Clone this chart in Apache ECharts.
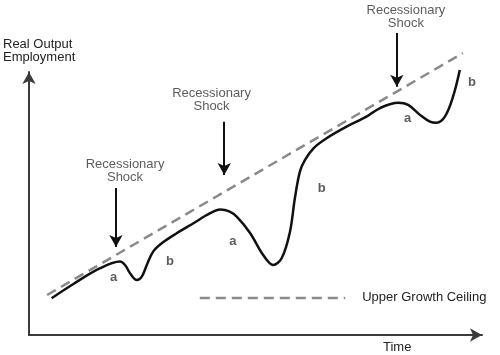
<!DOCTYPE html>
<html>
<head>
<meta charset="utf-8">
<script src="https://cdn.jsdelivr.net/npm/echarts@6/dist/echarts.min.js"></script>
<style>html,body{margin:0;padding:0;background:#fff;}#c{width:500px;height:355px;}</style>
</head>
<body>
<div id="c"></div>
<script>
// Business cycle path (time, output)
var cycleTime   = [5.0, 9.8, 15.7, 20.1, 21.2, 22.3, 23.8, 24.9, 26.0, 27.4, 29.3, 32.6, 36.3, 40.0, 42.2, 44.2, 45.9, 48.8, 51.7, 53.9, 55.8, 57.6, 58.7, 59.8, 60.9, 62.8, 65.7, 70.1, 74.5, 77.5, 81.5, 83.7, 86.3, 88.5, 90.0, 91.8, 93.6, 95.1];
var cycleOutput = [14.0, 19.4, 25.4, 27.9, 26.6, 23.5, 20.9, 22.2, 26.6, 31.7, 34.9, 38.7, 42.5, 46.3, 47.7, 47.0, 44.9, 38.8, 30.4, 26.6, 29.3, 39.2, 52.1, 62.1, 66.5, 71.0, 74.8, 79.2, 83.0, 86.3, 88.3, 87.5, 83.7, 81.1, 80.7, 83.0, 90.6, 100.8];
// Upper growth ceiling (dashed trend)
var ceilingTime   = [4.0, 95.8];
var ceilingOutput = [15.2, 107.2];
// Legend sample line
var legendTime   = [37.7, 69.8];
var legendOutput = [14.1, 14.1];
var legendText = 'Upper Growth Ceiling';
// Recessionary shocks: arrow time, arrow top, arrow tip, label x, label y
var shockTime  = [19.2, 43.1, 81.2];
var shockTop   = [55.9, 81.1, 114.8];
var shockTip   = [33.5, 60.8, 94.4];
var shockLabelX = [21.2, 40.3, 83.2];
var shockLabelY = [62.2, 89.2, 120.9];
var shockText = 'Recessionary\nShock';
// Phase labels
var phaseNames = ['a', 'b', 'a', 'b', 'a', 'b'];
var phaseX = [18.7, 31.1, 45.0, 64.6, 83.6, 97.8];
var phaseY = [21.9, 27.9, 35.4, 55.9, 82.5, 96.0];

var FONT = 'Liberation Sans, Arial, sans-serif';
var chart = echarts.init(document.getElementById('c'), null, {renderer: 'canvas'});

function zip(a, b) { return a.map(function (v, i) { return [v, b[i]]; }); }

var shockLines = shockTime.map(function (t, i) {
  return [{coord: [t, shockTop[i]]}, {coord: [t, shockTip[i]]}];
});
var shockLabels = shockLabelX.map(function (x, i) { return {name: shockText, value: [x, shockLabelY[i]]}; });
var phaseData = phaseNames.map(function (n, i) { return {name: n, value: [phaseX[i], phaseY[i]]}; });

var hidden = {axisLine: {show: false}, axisTick: {show: false}, axisLabel: {show: false}, splitLine: {show: false}};
var arrowLine = {show: true, symbol: ['none', 'arrow'], symbolSize: [10, 12], lineStyle: {color: '#3a3a3a', width: 2}};

chart.setOption({
  backgroundColor: '#fff',
  animation: false,
  grid: [
    {left: 29, right: 18, top: 72, bottom: 20},      // visible axes (same scale)
    {left: 29, right: 18, top: 6.25, bottom: 20}     // drawing area, extended upward
  ],
  xAxis: [
    Object.assign({type: 'value', min: 0, max: 100, gridIndex: 0}, hidden, {axisLine: arrowLine}),
    Object.assign({type: 'value', min: 0, max: 100, gridIndex: 1}, hidden)
  ],
  yAxis: [
    Object.assign({type: 'value', min: 0, max: 100, gridIndex: 0}, hidden, {axisLine: arrowLine}),
    Object.assign({type: 'value', min: 0, max: 125, gridIndex: 1}, hidden)
  ],
  graphic: [
    {type: 'text', left: 3, top: 38, style: {text: 'Real Output\nEmployment', font: '13px ' + FONT, fill: '#222', lineHeight: 13}},
    {type: 'text', left: 383, top: 341, style: {text: 'Time', font: '13px ' + FONT, fill: '#222'}}
  ],
  series: [
    {
      type: 'line', xAxisIndex: 1, yAxisIndex: 1, data: zip(ceilingTime, ceilingOutput), showSymbol: false, clip: false,
      lineStyle: {color: '#8a8a8a', width: 2.5, type: [10, 6]}
    },
    {
      type: 'line', xAxisIndex: 1, yAxisIndex: 1, data: zip(legendTime, legendOutput), showSymbol: false, clip: false,
      lineStyle: {color: '#8a8a8a', width: 2.5, type: [10, 6]},
      endLabel: {show: true, formatter: legendText, distance: 17, color: '#222', fontSize: 13, fontFamily: FONT}
    },
    {
      type: 'line', xAxisIndex: 1, yAxisIndex: 1, data: zip(cycleTime, cycleOutput), showSymbol: false, clip: false,
      smooth: 0.35,
      lineStyle: {color: '#111', width: 2.5},
      markLine: {
        silent: true, symbol: ['none', 'arrow'], symbolSize: [10, 12], label: {show: false},
        lineStyle: {color: '#111', width: 2, type: 'solid'},
        data: shockLines
      }
    },
    {
      type: 'scatter', xAxisIndex: 1, yAxisIndex: 1, data: shockLabels, symbolSize: 0, clip: false, silent: true,
      label: {show: true, position: 'inside', formatter: '{b}', color: '#333', fontSize: 13, fontFamily: FONT, lineHeight: 13, align: 'center'}
    },
    {
      type: 'scatter', xAxisIndex: 1, yAxisIndex: 1, data: phaseData, symbolSize: 0, clip: false, silent: true,
      label: {show: true, position: 'inside', formatter: '{b}', color: '#333', fontSize: 13, fontWeight: 'bold', fontFamily: FONT}
    }
  ]
});
</script>
</body>
</html>
